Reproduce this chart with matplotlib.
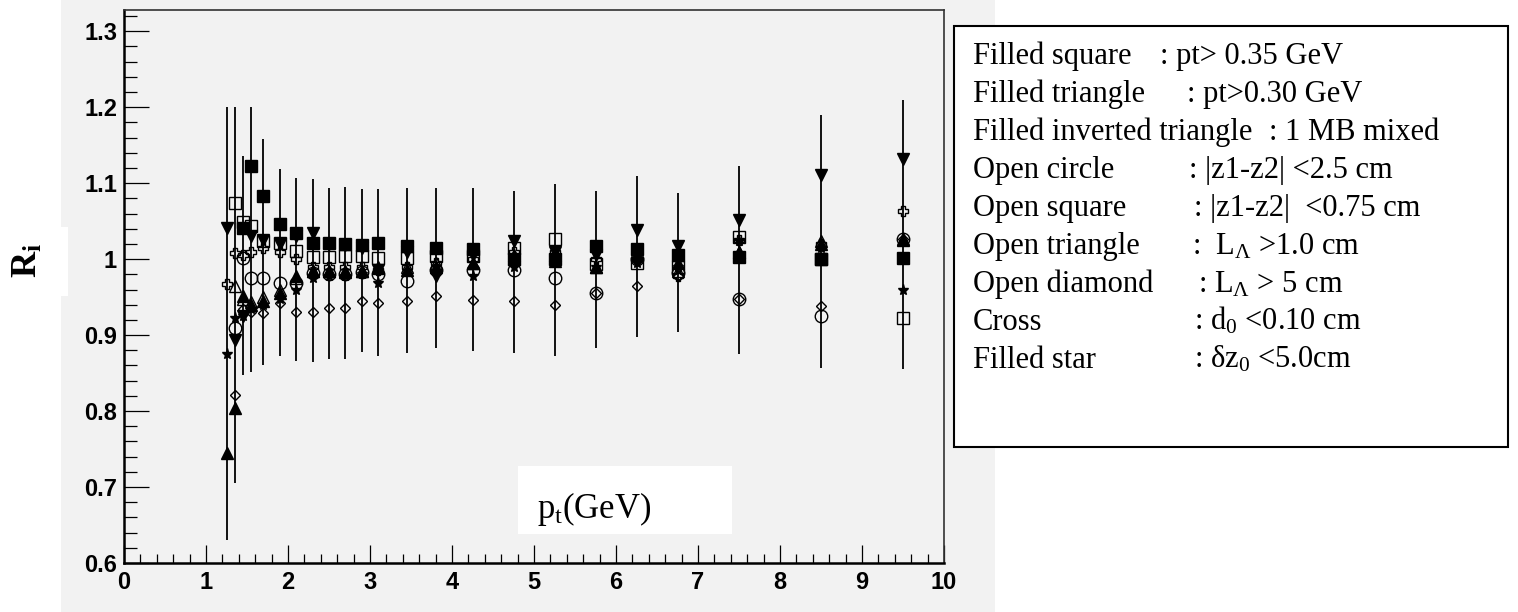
import numpy as np
import matplotlib
matplotlib.use("Agg")
import matplotlib.pyplot as plt
from matplotlib.patches import Rectangle
from matplotlib.ticker import MultipleLocator

nan = np.nan

# ---- data ----
pt_bins = [1.25, 1.35, 1.45, 1.55, 1.7, 1.9, 2.1, 2.3, 2.5, 2.7, 2.9, 3.1,
           3.45, 3.8, 4.25, 4.75, 5.25, 5.75, 6.25, 6.75, 7.5, 8.5, 9.5]

filled_square = [nan, nan, 1.041, 1.123, 1.083, 1.046, 1.035, 1.021, 1.021, 1.020, 1.019, 1.021,
                 1.017, 1.015, 1.013, 1.000, 1.000, 1.017, 1.013, 1.006, 1.003, 1.000, 1.002]
filled_triangle = [0.745, 0.804, 0.952, 0.940, 0.945, 0.956, 0.978, 0.985, 0.984, 0.983, 0.985, 0.988,
                   0.986, 0.990, 0.995, 1.005, 0.998, 0.990, 1.005, 0.995, 1.010, 1.020, 1.025]
filled_inv_triangle = [1.041, 0.894, 0.925, 1.030, 1.025, 1.020, 1.030, 1.035, 1.020, 1.018, 1.015, 0.986,
                       1.010, 0.978, 1.005, 1.024, 1.010, 1.005, 1.039, 1.017, 1.051, 1.111, 1.132]
open_circle = [nan, 0.909, 1.002, 0.975, 0.975, 0.969, 0.969, 0.982, 0.980, 0.980, 0.983, 0.980,
               0.971, 0.986, 0.986, 0.986, 0.975, 0.956, 1.000, 0.982, 0.947, 0.925, 1.027]
open_square = [nan, 1.074, 1.049, 1.043, 1.024, 1.021, 1.011, 1.003, 1.003, 1.004, 1.004, 1.002,
               1.002, 1.004, 1.004, 1.015, 1.026, 0.993, 0.995, 0.989, 1.029, 1.000, 0.923]
open_triangle = [nan, 0.964, 0.947, 0.943, 0.950, 0.960, 0.975, 0.985, 0.985, 0.985, 0.985, 0.990,
                 0.990, 0.995, 0.995, 1.000, 1.005, 0.990, 1.005, 0.985, 1.010, 1.024, 1.027]
open_diamond = [nan, 0.821, 0.935, 0.930, 0.929, 0.942, 0.930, 0.930, 0.936, 0.936, 0.945, 0.942,
                0.945, 0.952, 0.946, 0.945, 0.940, 0.956, 0.965, 0.978, 0.947, 0.938, 1.027]
cross = [0.967, 1.008, 1.005, 1.010, 1.015, 1.010, 1.000, 0.990, 0.990, 0.990, 0.990, 0.986,
         0.990, 0.995, 1.000, 1.010, 1.010, 1.000, 1.000, 0.978, 1.025, 1.020, 1.064]
filled_star = [0.875, 0.922, 0.925, 0.935, 0.940, 0.947, 0.960, 0.975, 0.978, 0.978, 0.980, 0.969,
               0.985, 0.990, 0.978, 0.990, 0.995, 0.990, 0.995, 0.990, 1.024, 1.015, 0.959]

err_top = [1.200, 1.200, 1.136, 1.200, 1.158, 1.119, 1.107, 1.105, 1.094, 1.095, 1.092, 1.092,
           1.094, 1.094, 1.094, 1.090, 1.099, 1.090, 1.109, 1.087, 1.123, 1.190, 1.210]
err_bottom = [0.630, 0.705, 0.848, 0.852, 0.861, 0.873, 0.866, 0.864, 0.868, 0.868, 0.878, 0.873,
              0.877, 0.883, 0.879, 0.877, 0.873, 0.883, 0.897, 0.904, 0.875, 0.857, 0.856]

legend_labels = ["Filled square", "Filled triangle", "Filled inverted triangle", "Open circle",
                 "Open square", "Open triangle", "Open diamond", "Cross", "Filled star"]
legend_values = [": pt> 0.35 GeV", ": pt>0.30 GeV", ": 1 MB mixed", ": |z1-z2| <2.5 cm",
                 ": |z1-z2|  <0.75 cm", ":  L$_\\Lambda$ >1.0 cm", ": L$_\\Lambda$ > 5 cm",
                 ": d$_0$ <0.10 cm", ": δz$_0$ <5.0cm"]

x_label = "p$_{\\mathrm{t}}$(GeV)"
y_label = "R$_\\mathbf{i}$"

# ---- style ----
plt.rcParams["mathtext.fontset"] = "custom"
plt.rcParams["mathtext.rm"] = "Liberation Serif"
plt.rcParams["mathtext.it"] = "Liberation Serif:italic"
plt.rcParams["mathtext.bf"] = "Liberation Serif:bold"

W, H = 1518, 612
fig = plt.figure(figsize=(W / 100, H / 100), dpi=100)
fig.patch.set_facecolor("white")

def fx(x):
    return x / W

def fy(y):
    return 1 - y / H

CANVAS = "#f2f2f2"
fig.patches.append(Rectangle((fx(61), 0), fx(995) - fx(61), 1, transform=fig.transFigure,
                             facecolor=CANVAS, edgecolor="none", zorder=-5))

ax = fig.add_axes([fx(124), fy(563), fx(944) - fx(124), fy(9.5) - fy(563)])
ax.set_zorder(1)
ax.set_facecolor(CANVAS)
ax.set_xlim(0, 10)
ax.set_ylim(0.6, 1.3286)

for s in ["left", "bottom"]:
    ax.spines[s].set_linewidth(1.8)
    ax.spines[s].set_color("black")
for s in ["top", "right"]:
    ax.spines[s].set_linewidth(1.2)
    ax.spines[s].set_color("#333333")

ax.xaxis.set_major_locator(MultipleLocator(1))
ax.xaxis.set_minor_locator(MultipleLocator(0.2))
ax.yaxis.set_major_locator(MultipleLocator(0.1))
ax.yaxis.set_minor_locator(MultipleLocator(0.02))
ax.tick_params(axis="x", which="major", direction="in", length=13, width=0.9, pad=6,
               labelsize=17, top=False)
ax.tick_params(axis="x", which="minor", direction="in", length=6.5, width=0.9, top=False)
ax.tick_params(axis="y", which="major", direction="in", length=18, width=0.9, pad=5,
               labelsize=17, right=False)
ax.tick_params(axis="y", which="minor", direction="in", length=9.5, width=0.9, right=False)
ax.set_yticks([0.6, 0.7, 0.8, 0.9, 1.0, 1.1, 1.2, 1.3])
ax.set_yticklabels(["0.6", "0.7", "0.8", "0.9", "1", "1.1", "1.2", "1.3"])
for lab in ax.get_xticklabels() + ax.get_yticklabels():
    lab.set_fontweight("bold")
    lab.set_family("Liberation Sans")

ax.vlines(pt_bins, err_bottom, err_top, color="black", lw=1.3, zorder=2)

series = [
    (filled_square, "s", True, 8.6),
    (filled_triangle, "^", True, 8.0),
    (filled_inv_triangle, "v", True, 8.0),
    (open_circle, "o", False, 9.0),
    (open_square, "s", False, 8.6),
    (open_triangle, "^", False, 8.0),
    (open_diamond, "D", False, 5.0),
    (cross, "P", False, 7.5),
    (filled_star, "*", True, 8.0),
]
for vals, mk, filled, ms in series:
    ax.plot(pt_bins, vals, linestyle="none", marker=mk, markersize=ms,
            markerfacecolor="black" if filled else "none", markeredgecolor="black",
            markeredgewidth=1.0, zorder=3)

# x-axis title box
fig.patches.append(Rectangle((fx(518), fy(534)), fx(732) - fx(518), fy(466) - fy(534),
                             transform=fig.transFigure, facecolor="white", edgecolor="none", zorder=5))
fig.text(fx(537), fy(518), x_label, fontsize=25, family="Liberation Serif",
         ha="left", va="baseline", zorder=6)

# y-axis title box
fig.patches.append(Rectangle((0, fy(296)), fx(68), fy(227) - fy(296),
                             transform=fig.transFigure, facecolor="white", edgecolor="none", zorder=5))
fig.text(fx(28), fy(260), y_label, fontsize=26, family="Liberation Serif", fontweight="bold",
         rotation=90, ha="center", va="center", zorder=6)

# legend box
fig.patches.append(Rectangle((fx(954), fy(447)), fx(1508) - fx(954), fy(26) - fy(447),
                             transform=fig.transFigure, facecolor="white", edgecolor="black",
                             linewidth=1.5, zorder=5))
colon_x = [1160, 1187, 1269, 1189, 1194, 1192, 1198, 1194, 1194]
for i, (lab, val) in enumerate(zip(legend_labels, legend_values)):
    yb = 64 + i * 38
    fig.text(fx(973), fy(yb), lab, fontsize=22, family="Liberation Serif",
             ha="left", va="baseline", zorder=6)
    fig.text(fx(colon_x[i]), fy(yb), val, fontsize=22, family="Liberation Serif",
             ha="left", va="baseline", zorder=6)

fig.savefig("out.png", dpi=100)
